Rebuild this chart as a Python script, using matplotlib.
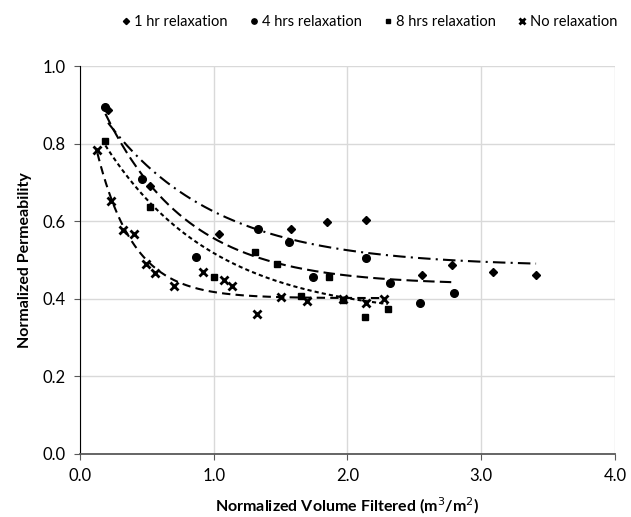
import numpy as np
import matplotlib
matplotlib.use('Agg')
import matplotlib.pyplot as plt

plt.rcParams['font.family'] = ['Lato', 'DejaVu Sans']

# ---------------------------------------------------------------------
# Data
# ---------------------------------------------------------------------
x_1hr = [0.21, 0.52, 1.04, 1.58, 1.85, 2.14, 2.56, 2.78, 3.09, 3.41]
y_1hr = [0.887, 0.690, 0.567, 0.580, 0.598, 0.603, 0.461, 0.487, 0.469, 0.461]

x_4hr = [0.19, 0.46, 0.87, 1.33, 1.56, 1.74, 2.14, 2.32, 2.54, 2.80]
y_4hr = [0.894, 0.708, 0.507, 0.580, 0.546, 0.456, 0.505, 0.440, 0.390, 0.414]

x_8hr = [0.19, 0.52, 1.00, 1.31, 1.47, 1.65, 1.86, 1.97, 2.13, 2.30]
y_8hr = [0.806, 0.637, 0.456, 0.520, 0.490, 0.407, 0.456, 0.398, 0.353, 0.373]

x_no = [0.13, 0.23, 0.32, 0.40, 0.49, 0.56, 0.70, 0.92, 1.08, 1.14,
        1.32, 1.50, 1.70, 1.97, 2.14, 2.27]
y_no = [0.783, 0.652, 0.577, 0.567, 0.490, 0.466, 0.433, 0.469, 0.448, 0.433,
        0.360, 0.405, 0.394, 0.400, 0.389, 0.400]

labels = ['1 hr relaxation', '4 hrs relaxation', '8 hrs relaxation', 'No relaxation']

# ---------------------------------------------------------------------
# Trend lines: y = c + a*exp(-k x), least squares with k grid search
# ---------------------------------------------------------------------
def ajustar(x, y):
    x = np.asarray(x, float)
    y = np.asarray(y, float)
    mejor = None
    for k in np.linspace(0.2, 8, 400):
        A = np.column_stack([np.ones_like(x), np.exp(-k * x)])
        coef, *_ = np.linalg.lstsq(A, y, rcond=None)
        err = np.sum((A @ coef - y) ** 2)
        if mejor is None or err < mejor[0]:
            mejor = (err, k, coef)
    _, k, (c, a) = mejor
    xs = np.linspace(x.min(), x.max(), 200)
    return xs, c + a * np.exp(-k * xs)

series = [
    (x_1hr, y_1hr, 'D', 4.5, (0, (6, 2.5, 1, 2.5))),
    (x_4hr, y_4hr, 'o', 5.5, (0, (5.5, 2.5))),
    (x_8hr, y_8hr, 's', 5.0, (0, (2, 1.5))),
    (x_no, y_no, 'x', 5.5, (0, (4, 2.5))),
]

fig = plt.figure(figsize=(6.31, 5.17), dpi=100, facecolor='white')
ax = fig.add_axes([0.1268, 0.1219, 0.8478, 0.7504])

for (x, y, m, ms, ls), lab in zip(series, labels):
    xs, ys = ajustar(x, y)
    ax.plot(xs, ys, color='black', lw=1.5, linestyle=ls, zorder=2)
    if m == 'x':
        ax.plot(x, y, linestyle='none', marker=m, ms=ms, mew=2,
                color='black', label=lab, zorder=3)
    else:
        ax.plot(x, y, linestyle='none', marker=m, ms=ms,
                color='black', label=lab, zorder=3)

ax.set_xlim(0, 4)
ax.set_ylim(0, 1)
ax.set_xticks(np.arange(0, 4.01, 1.0))
ax.set_yticks(np.arange(0, 1.01, 0.2))
ax.set_xticklabels([f'{v:.1f}' for v in np.arange(0, 4.01, 1.0)])
ax.set_yticklabels([f'{v:.1f}' for v in np.arange(0, 1.01, 0.2)])
ax.grid(True, color='#d9d9d9', lw=1)
ax.set_axisbelow(True)
for s in ['top', 'right']:
    ax.spines[s].set_visible(False)
ax.spines['left'].set_color('black')
ax.spines['bottom'].set_color('#595959')
ax.spines['bottom'].set_linewidth(1.3)
ax.tick_params(axis='both', labelsize=12, color='#595959', length=4,
               direction='out', pad=6)

ax.set_xlabel('Normalized Volume Filtered (m$^3$/m$^2$)', fontsize=11.5,
              fontweight='bold', labelpad=8)
ax.set_ylabel('Normalized Permeability', fontsize=11.5, fontweight='bold',
              labelpad=8)

leg = fig.legend(loc='center right', bbox_to_anchor=(0.995, 0.957), ncol=4,
                 frameon=False, fontsize=10.5, handletextpad=0.05,
                 columnspacing=1.3, markerscale=0.7, handlelength=1.0,
                 borderpad=0.2)

plt.savefig('out.png', dpi=100, facecolor='white')
